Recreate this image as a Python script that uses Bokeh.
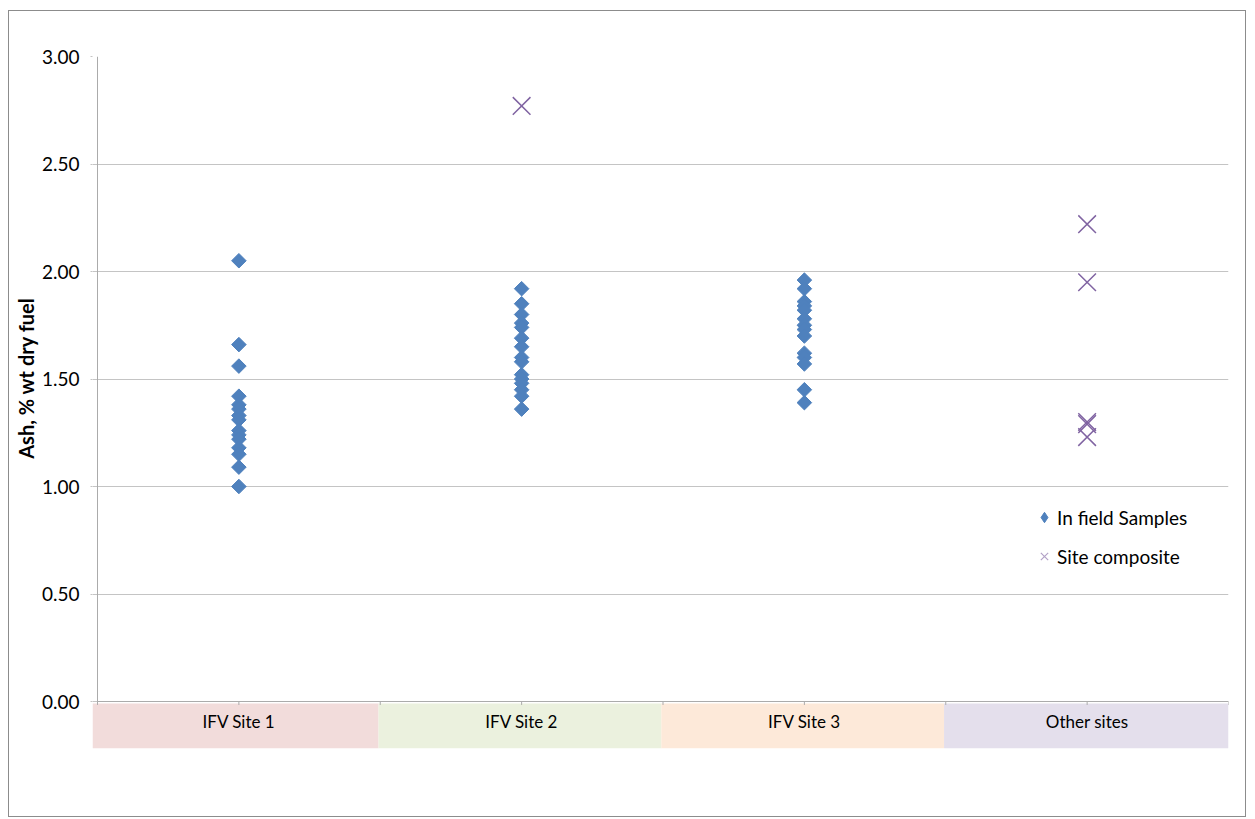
import numpy as np
from bokeh.plotting import figure
from bokeh.models import Range1d, FixedTicker, NumeralTickFormatter, Legend, LegendItem, Title
from bokeh.embed import file_html
from bokeh.resources import INLINE
from bokeh.core.properties import value

# ---- data ----
categories = ["IFV Site 1", "IFV Site 2", "IFV Site 3", "Other sites"]
band_colors = ["#F2DCDB", "#EBF1DE", "#FDE9D9", "#E4DFEC"]

site1_samples = [2.05, 1.66, 1.56, 1.42, 1.38, 1.36, 1.33, 1.31, 1.26, 1.24, 1.22, 1.18, 1.15, 1.09, 1.00]
site2_samples = [1.92, 1.85, 1.80, 1.76, 1.74, 1.69, 1.65, 1.60, 1.58, 1.52, 1.50, 1.48, 1.45, 1.42, 1.36]
site3_samples = [1.96, 1.92, 1.86, 1.84, 1.82, 1.78, 1.75, 1.73, 1.70, 1.62, 1.60, 1.57, 1.45, 1.39]

site2_composite = [2.77]
other_composite = [2.22, 1.95, 1.30, 1.29, 1.23]

y_ticks = [0.0, 0.5, 1.0, 1.5, 2.0, 2.5, 3.0]
y_label = "Ash, % wt dry  fuel"

# ---- styling ----
FONT = "Lato"
BLUE = "#4F81BD"
PURPLE = "#8064A2"
GRID = "#C4C4C4"
AXIS = "#ABABAB"

X0 = -0.0177
Y0 = -0.2186
BAND_TOP = -0.0093

p = figure(width=1238, height=807,
           x_range=Range1d(X0, 4.0), y_range=Range1d(Y0, 3.0),
           x_axis_type=None,
           output_backend="svg", toolbar_location=None,
           min_border_left=83, min_border_right=19,
           min_border_top=45, min_border_bottom=70)
p.styles = {"border": "1px solid #8C8C8C", "margin-left": "8px", "margin-top": "10px"}
p.outline_line_color = None
p.background_fill_color = "white"
p.border_fill_color = "white"

# grid
p.ygrid.ticker = FixedTicker(ticks=y_ticks)
p.ygrid.grid_line_color = GRID
p.ygrid.grid_line_width = 1

# y axis
ax = p.yaxis[0]
ax.ticker = FixedTicker(ticks=y_ticks)
ax.formatter = NumeralTickFormatter(format="0.00")
ax.axis_line_color = None
ax.major_tick_in = 0
ax.major_tick_out = 2
ax.major_tick_line_color = GRID
ax.minor_tick_line_color = None
ax.major_label_standoff = 11
ax.major_label_text_font = FONT
ax.major_label_text_font_size = "19px"
ax.major_label_text_color = "#000000"

# y axis title, positioned so it is centred on the 0-3 value span
p.add_layout(Title(text=y_label, align="right", offset=236, vertical_align="middle",
                   standoff=0, text_font=FONT, text_font_size="20px",
                   text_font_style="bold", text_color="#000000"), "left")

# category bands
n = len(categories)
lefts = [X0] + [i - 0.006 for i in range(1, n)]
rights = [i - 0.006 for i in range(1, n)] + [4.0]
p.quad(left=lefts, right=rights, bottom=Y0, top=BAND_TOP,
       fill_color=band_colors, line_color=None)

# axis lines
p.segment(x0=[0, 0], y0=[0, 0], x1=[0, n], y1=[3.0, 0], line_color=AXIS, line_width=1)
tick_x = list(np.arange(0, n + 0.01, 0.5))
p.segment(x0=tick_x, y0=[0] * len(tick_x), x1=tick_x, y1=[-0.016] * len(tick_x),
          line_color=AXIS, line_width=1)

# category labels
centers = [i + 0.5 for i in range(n)]
p.text(x=centers, y=[-0.093] * n, text=categories,
       text_font=value(FONT), text_font_size="17px", text_color="#000000",
       text_align="center", text_baseline="middle")

# samples
sx = ([0.5] * len(site1_samples) + [1.5] * len(site2_samples) + [2.5] * len(site3_samples))
sy = site1_samples + site2_samples + site3_samples
r1 = p.scatter(x=sx, y=sy, marker="square", size=10.3, angle=np.pi / 4,
               fill_color=BLUE, line_color=BLUE)

cx = [1.5] * len(site2_composite) + [3.5] * len(other_composite)
cy = site2_composite + other_composite
r2 = p.scatter(x=cx, y=cy, marker="x", size=25, line_color=PURPLE, line_width=1.5)

# legend proxies (legend cannot rotate the square marker, so use a diamond)
lg1 = p.scatter(x=[np.nan], y=[np.nan], marker="diamond", fill_color=BLUE, line_color=BLUE)
lg2 = p.scatter(x=[np.nan], y=[np.nan], marker="x", line_color="#B3A2C7", line_width=1.2)

legend = Legend(items=[LegendItem(label="In field Samples", renderers=[lg1]),
                       LegendItem(label="Site composite", renderers=[lg2])],
                location=(939, 178), orientation="vertical",
                background_fill_alpha=0, border_line_color=None,
                padding=0, margin=0, spacing=11,
                glyph_width=26, glyph_height=28, label_height=28,
                label_standoff=0,
                label_text_font=FONT, label_text_font_size="19px",
                label_text_color="#000000")
p.add_layout(legend)

open("out.html", "w").write(file_html(p, INLINE))
